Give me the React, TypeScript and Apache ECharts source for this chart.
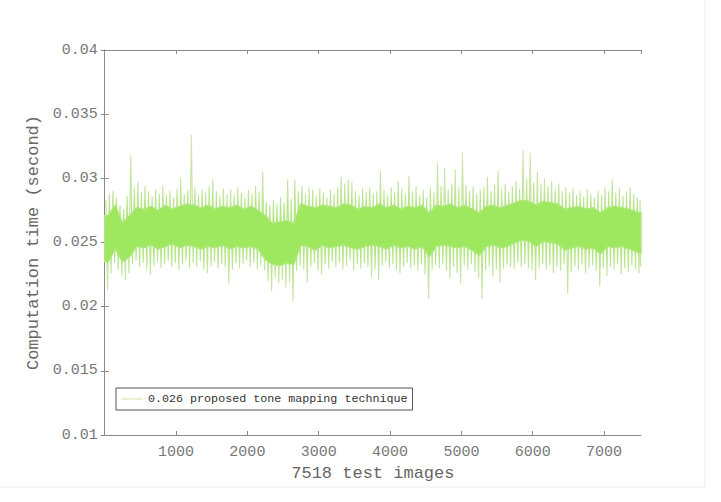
import React, { useRef, useEffect } from 'react'
import * as echarts from 'echarts'

// highest and lowest spike per 50 test images (seconds)
const spikeHigh = [
  0.0283, 0.0288, 0.029, 0.0285, 0.0279, 0.0276, 0.0286, 0.0318, 0.0293, 0.0297,
  0.0289, 0.0294, 0.029, 0.0286, 0.0291, 0.0288, 0.0294, 0.0287, 0.029, 0.0285,
  0.0292, 0.03, 0.0288, 0.0291, 0.0334, 0.0293, 0.0287, 0.0291, 0.0289, 0.0294,
  0.0299, 0.029, 0.0286, 0.0292, 0.0288, 0.0291, 0.0287, 0.0293, 0.0289, 0.0285,
  0.0291, 0.0288, 0.0294, 0.029, 0.0305, 0.0282, 0.0279, 0.0283, 0.028, 0.0285,
  0.0281, 0.0299, 0.0284, 0.0299, 0.029, 0.0294, 0.0288, 0.0293, 0.0291, 0.0286,
  0.0292, 0.0289, 0.0285, 0.0291, 0.0288, 0.0293, 0.0301, 0.0296, 0.0299, 0.0297,
  0.029, 0.0287, 0.0292, 0.0289, 0.0293, 0.0288, 0.029, 0.0306, 0.0291, 0.0287,
  0.0293, 0.0289, 0.0298, 0.0292, 0.0288, 0.0302, 0.029, 0.0294, 0.0287, 0.0291,
  0.0285, 0.0293, 0.0289, 0.0312, 0.0294, 0.0308, 0.0291, 0.0296, 0.0307, 0.0293,
  0.032, 0.0295, 0.029, 0.0294, 0.0288, 0.0291, 0.0293, 0.0301, 0.029, 0.0295,
  0.0306, 0.0292, 0.0296, 0.029, 0.0294, 0.0298, 0.0292, 0.0322, 0.03, 0.032,
  0.0297, 0.0305, 0.0296, 0.03, 0.0294, 0.0298, 0.0292, 0.0296, 0.029, 0.0293,
  0.0289, 0.0292, 0.0287, 0.029, 0.0286, 0.0291, 0.0288, 0.0285, 0.029, 0.0287,
  0.0293, 0.029, 0.0299, 0.0289, 0.0292, 0.0286, 0.029, 0.0293, 0.0288, 0.0285,
  0.0283,
]
const spikeLow = [
  0.0213, 0.0226, 0.0234, 0.0229, 0.0224, 0.0221, 0.0226, 0.0233, 0.0236, 0.0231,
  0.0234, 0.0229, 0.0225, 0.0232, 0.0235, 0.023, 0.0233, 0.0236, 0.0231, 0.0234,
  0.0229, 0.0233, 0.0236, 0.023, 0.0234, 0.0231, 0.0235, 0.0229, 0.0226, 0.0232,
  0.0235, 0.023, 0.0233, 0.0231, 0.0218, 0.0229, 0.0234, 0.023, 0.0233, 0.0236,
  0.0231, 0.0234, 0.0229, 0.0232, 0.0228, 0.022, 0.0212, 0.0222, 0.0218, 0.0221,
  0.0215, 0.0219, 0.0204, 0.0228, 0.0232, 0.0229, 0.0219, 0.0231, 0.0234, 0.0228,
  0.0225, 0.0233, 0.023, 0.0235, 0.0231, 0.0234, 0.0229, 0.0232, 0.0236, 0.0228,
  0.0233, 0.023, 0.0234, 0.0231, 0.0223, 0.0229, 0.0221, 0.0232, 0.0235, 0.023,
  0.0233, 0.0229, 0.0226, 0.0231, 0.0234, 0.023, 0.0232, 0.0228, 0.0233, 0.0225,
  0.0206, 0.0229, 0.0232, 0.023, 0.0233, 0.0228, 0.0222, 0.0231, 0.0226, 0.0218,
  0.0232, 0.0229, 0.0233, 0.0227, 0.0222, 0.0206, 0.0228, 0.0231, 0.0224, 0.0229,
  0.0219, 0.023, 0.0233, 0.0231, 0.0229, 0.0234, 0.0231, 0.0233, 0.023, 0.0228,
  0.0221, 0.023, 0.0233, 0.0229, 0.0232, 0.0226, 0.0231, 0.0228, 0.0233, 0.021,
  0.0227, 0.0231, 0.0229, 0.0233, 0.0226, 0.023, 0.0232, 0.0228, 0.0216, 0.023,
  0.0224, 0.0231, 0.0229, 0.0233, 0.0225, 0.023, 0.0227, 0.0232, 0.0229, 0.0226,
  0.0231,
]
// dense core per 100 test images: top and bottom (seconds)
const coreHigh = [
  0.0271, 0.0279, 0.0265, 0.0271, 0.0277, 0.0276, 0.0278, 0.0275, 0.0279, 0.0276,
  0.0278, 0.028, 0.0279, 0.0277, 0.0279, 0.0276, 0.0278, 0.0277, 0.0279, 0.0276,
  0.0278, 0.0275, 0.0271, 0.0265, 0.0266, 0.0267, 0.0265, 0.028, 0.0278, 0.0277,
  0.0279, 0.0278, 0.0277, 0.028, 0.0279, 0.0276, 0.0278, 0.0277, 0.028, 0.0277,
  0.0279, 0.0276, 0.0278, 0.0277, 0.0279, 0.0273, 0.0279, 0.0278, 0.028, 0.0277,
  0.0279, 0.0276, 0.0273, 0.0278, 0.0279, 0.0277, 0.0279, 0.0281, 0.0283, 0.0282,
  0.0279, 0.0282, 0.0281, 0.028, 0.0276, 0.0277, 0.0278, 0.0276, 0.0277, 0.0273,
  0.0277, 0.0278, 0.0277, 0.0276, 0.0274, 0.0273,
]
const coreLow = [
  0.0235, 0.0245, 0.0235, 0.0239, 0.0247, 0.0246, 0.0248, 0.0245, 0.0247, 0.0249,
  0.0246, 0.0248, 0.0247, 0.0245, 0.0247, 0.0246, 0.0248, 0.0245, 0.0247, 0.0246,
  0.0247, 0.0245, 0.0237, 0.0233, 0.0232, 0.0234, 0.0233, 0.0248, 0.0247, 0.0244,
  0.0248, 0.0246, 0.0247, 0.0248, 0.0246, 0.0245, 0.0247, 0.0248, 0.0247, 0.0245,
  0.0248, 0.0246, 0.0247, 0.0245, 0.0247, 0.0239, 0.0247, 0.0248, 0.0247, 0.0246,
  0.0247, 0.0244, 0.024, 0.0247, 0.0248, 0.0246, 0.0247, 0.025, 0.0252, 0.0251,
  0.0247, 0.0251, 0.025, 0.0249, 0.0244, 0.0246, 0.0247, 0.0245, 0.0246, 0.0241,
  0.0247, 0.0246, 0.0247, 0.0245, 0.0243, 0.0242,
]
const imageCount = 7518
const spikeBin = 50
const coreBin = 100
const legendName = '0.026 proposed tone mapping technique'

const mono = 'Liberation Mono'

function App() {
  const chartRef = useRef(null)

  useEffect(() => {
    const chart = echarts.init(chartRef.current, null, { renderer: 'svg' })

    // thin line zigzags from each bin's highest to its lowest value
    const spikes: number[][] = []
    spikeHigh.forEach((h, i) => {
      const start = i * spikeBin
      const w = Math.min(spikeBin, imageCount - start)
      spikes.push([start + w * 0.3, h])
      spikes.push([start + w * 0.8, spikeLow[i]])
    })

    // dense core: [x, top, bottom]
    const core: number[][] = []
    coreHigh.forEach((h, i) => {
      const start = i * coreBin
      const w = Math.min(coreBin, imageCount - start)
      const xs = i === 0 ? [0, start + w / 2] : i === coreHigh.length - 1 ? [start + w / 2, imageCount] : [start + w / 2]
      xs.forEach((x) => core.push([x, h, coreLow[i]]))
    })

    const axisLine = { lineStyle: { color: '#8a8a8a', width: 1 } }
    const tick = { inside: true, length: 4, lineStyle: { color: '#8a8a8a' } }

    // spikes fade from green near the core to pale at their tips
    const spikeColor = new echarts.graphic.LinearGradient(
      0, 140, 0, 320,
      [
        { offset: 0, color: '#d9e2b8' },
        { offset: 0.3, color: '#bfe596' },
        { offset: 0.5, color: '#a3e76a' },
        { offset: 0.7, color: '#bfe596' },
        { offset: 1, color: '#d9e2b8' },
      ],
      true,
    )

    const option = {
      animation: false,
      backgroundColor: '#fff',
      grid: { left: 104.7, right: 80, top: 50, bottom: 67 },
      legend: {
        left: 116,
        top: 388,
        data: [{ name: legendName, icon: 'rect', itemStyle: { color: '#d2e2ae' } }],
        padding: [4, 5, 4, 5],
        borderColor: '#555',
        borderWidth: 1,
        backgroundColor: '#fff',
        itemWidth: 22,
        itemHeight: 1,
        textStyle: { fontFamily: mono, fontSize: 11.7, color: '#333', lineHeight: 14 },
      },
      xAxis: [
        {
          type: 'value',
          min: 0,
          max: imageCount,
          interval: 1000,
          position: 'bottom',
          name: '7518 test images',
          nameLocation: 'middle',
          nameGap: 29,
          nameTextStyle: { fontFamily: mono, fontSize: 17, color: '#666' },
          axisLine,
          axisTick: tick,
          splitLine: { show: false },
          axisLabel: {
            showMinLabel: false,
            showMaxLabel: false,
            margin: 10,
            fontFamily: mono,
            fontSize: 15,
            color: '#777',
            formatter: (v: number) => String(v),
          },
        },
        {
          type: 'value',
          min: 0,
          max: imageCount,
          interval: 1000,
          position: 'top',
          axisLine,
          axisTick: tick,
          splitLine: { show: false },
          axisLabel: { show: false },
        },
      ],
      yAxis: [
        {
          type: 'value',
          min: 0.01,
          max: 0.04,
          interval: 0.005,
          position: 'left',
          name: 'Computation time (second)',
          nameLocation: 'middle',
          nameGap: 43,
          nameTextStyle: { fontFamily: mono, fontSize: 17, color: '#666' },
          axisLine,
          axisTick: tick,
          splitLine: { show: false },
          axisLabel: { margin: 7, fontFamily: mono, fontSize: 15, color: '#777' },
        },
        {
          type: 'value',
          min: 0.01,
          max: 0.04,
          interval: 0.005,
          position: 'right',
          axisLine,
          axisTick: tick,
          splitLine: { show: false },
          axisLabel: { show: false },
        },
      ],
      series: [
        {
          name: legendName,
          type: 'line',
          data: spikes,
          symbol: 'none',
          showSymbol: false,
          z: 2,
          itemStyle: { color: '#d2e2ae' },
          lineStyle: { color: spikeColor, width: 1.1 },
        },
        {
          name: 'core',
          type: 'custom',
          data: core,
          encode: { x: 0, y: [1, 2] },
          clip: true,
          z: 3,
          renderItem: (params: any, api: any) => {
            if (params.dataIndex !== 0) return null
            const top = core.map((d) => api.coord([d[0], d[1]]))
            const bottom = core.map((d) => api.coord([d[0], d[2]])).reverse()
            return {
              type: 'polygon',
              shape: { points: top.concat(bottom) },
              style: { fill: '#9de85e', stroke: '#aee67c', lineWidth: 1.5 },
            }
          },
        },
      ],
      graphic: [
        { type: 'line', shape: { x1: 705, y1: 0, x2: 705, y2: 487 }, style: { stroke: '#ececec', lineWidth: 1 } },
        { type: 'line', shape: { x1: 0, y1: 487, x2: 705, y2: 487 }, style: { stroke: '#ececec', lineWidth: 1 } },
      ],
    }

    chart.setOption(option)

    return () => {
      chart.dispose()
    }
  }, [])

  return (
    <div
      ref={chartRef}
      style={{ position: 'fixed', left: 0, top: 0, width: 721, height: 502 }}
    ></div>
  )
}

export default App
